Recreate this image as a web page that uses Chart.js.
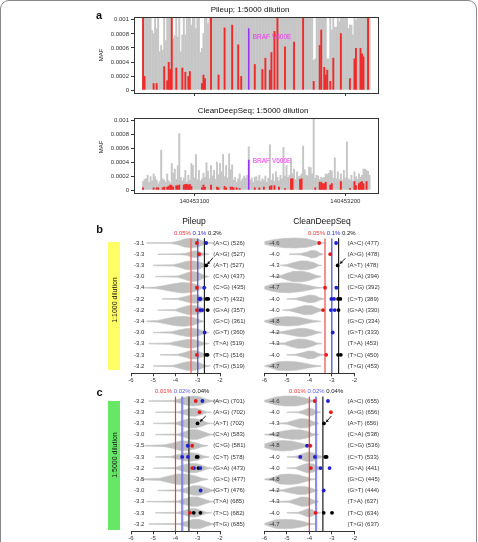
<!DOCTYPE html>
<html>
<head>
<meta charset="utf-8">
<script src="https://cdn.jsdelivr.net/npm/chart.js@4.4.1/dist/chart.umd.min.js"></script>
<style>
body { margin: 0; background: #fff; font-family: "Liberation Sans", Arial, sans-serif; }
#page { position: relative; width: 478px; height: 542px; overflow: hidden; }
#frame { position: absolute; left: 0; top: 0; width: 475px; height: 600px; border: 1px solid #888; border-radius: 9px; }
canvas { position: absolute; }
.t { position: absolute; white-space: nowrap; line-height: 1; transform: translate(-50%, -50%); color: #111; }
.r { transform: translate(-50%, -50%) rotate(-90deg); }
.box { position: absolute; width: 12px; }
</style>
</head>
<body>
<div id="page">
  <div id="frame"></div>
  <div class="box" style="left:108px;top:242px;height:128px;background:#ffff66"></div>
  <div class="box" style="left:108px;top:401px;height:129px;background:#66e866"></div>

  <canvas id="aTop" width="400" height="100" style="left:0;top:0"></canvas>
  <canvas id="aBot" width="400" height="110" style="left:0;top:100px"></canvas>
  <canvas id="bL" width="170" height="175" style="left:95px;top:215px"></canvas>
  <canvas id="bR" width="160" height="175" style="left:240px;top:215px"></canvas>
  <canvas id="cL" width="170" height="167" style="left:95px;top:375px"></canvas>
  <canvas id="cR" width="160" height="167" style="left:240px;top:375px"></canvas>

  <div class="t" style="left:99px;top:15px;font-size:11px;font-weight:bold">a</div>
  <div class="t" style="left:99.5px;top:228.5px;font-size:11px;font-weight:bold">b</div>
  <div class="t" style="left:99.5px;top:391.5px;font-size:11px;font-weight:bold">c</div>
  <div class="t" style="left:250px;top:10px;font-size:8px">Pileup; 1:5000 dilution</div>
  <div class="t" style="left:253px;top:111px;font-size:8px">CleanDeepSeq; 1:5000 dilution</div>
  <div class="t r" style="left:100.5px;top:55px;font-size:6px">MAF</div>
  <div class="t r" style="left:100.5px;top:147px;font-size:6px">MAF</div>
  <div class="t" style="left:194px;top:221px;font-size:8.5px">Pileup</div>
  <div class="t" style="left:322px;top:221px;font-size:8.5px">CleanDeepSeq</div>
  <div class="t r" style="left:114px;top:300px;font-size:7px">1:1000 dilution</div>
  <div class="t r" style="left:114px;top:455px;font-size:7px">1:5000 dilution</div>
  <div class="t" style="left:176px;top:544px;font-size:6px">MAF</div>
  <div class="t" style="left:310px;top:544px;font-size:6px">MAF</div>
</div>

<script>
// ---------- panel a: per-position MAF around BRAF V600E ----------
const firstPos = 140453066;
const positions = Array.from({ length: 151 }, (_, i) => firstPos + i);
const posTicks = [140453100, 140453200];
const mafTicks = [0, 0.0002, 0.0004, 0.0006, 0.0008, 0.001];
const brafPos = 140453136;
const brafMaf = [0.00088, 0.00044];      // pileup, cleandeepseq
const brafLabelMaf = [0.00076, 0.00042];

// values above 0.001 run off the top of the box
const pileupGray = [
  .002, .002, .002, .002, .002, .002, .00085, .00081, .002, .00088,
  .002, .00055, .00064, .00057, .002, .00071, .002, .002, .002, .002,
  .00074, .00078, .002, .00076, .002, .00055, .00079, .002, .00079, .002,
  .002, .002, .00093, .002, .002, .00088, .002, .002, .00054, .0006,
  .00081, .002, .002, .00095, .002, .002, .002, .002, .002, .002,
  .002, .002, .002, .002, .002, .002, .002, .002, .002, .002,
  .002, .002, .002, .002, .002, .002, .002, .002, .002, .002,
  .002, .002, .002, .002, .002, .002, .002, .002, .002, .002,
  .002, .002, .002, .002, .002, .002, .002, .002, .002, .002,
  .002, .002, .002, .002, .002, .002, .002, .002, .002, .002,
  .002, .002, .002, .002, .002, .002, .002, .002, .002, .002,
  .002, .002, .002, .00043, .00045, .002, .002, .002, .002, .002,
  .002, .002, .00045, .00045, .002, .00086, .002, .0009, .0009, .002,
  .00098, .002, .002, .002, .002, .002, .00088, .00093, .00093, .00079,
  .002, .001, .002, .002, .002, .002, .002, .002, .002, .002,
  .002
];
const pileupRed = [
  .002, .0002, 0, 0, 0, 0, 0, .0001, 0, .0001,
  0, 0, 0, 0, .00034, 0, .00014, .0004, .0003, .002,
  0, 0, .00032, 0, 0, 0, .00032, 0, .00026, 0,
  .0002, .00027, 0, 0, 0, 0, 0, 0, 0, .0001,
  .00022, .00017, 0, 0, 0, .002, 0, 0, 0, 0,
  .00022, 0, 0, 0, .00089, 0, 0, 0, 0, .00093,
  0, 0, 0, .00065, 0, .0002, 0, 0, 0, 0,
  0, 0, 0, 0, .00037, 0, 0, 0, 0, .0003,
  0, .00046, 0, 0, .00029, .00054, 0, .00084, 0, .002,
  0, 0, 0, 0, .00062, 0, 0, 0, 0, 0,
  .00069, 0, 0, 0, 0, 0, .002, 0, 0, 0,
  0, 0, 0, .00013, 0, 0, 0, .00064, .00086, 0,
  .00033, .00022, .00029, 0, .00013, 0, .00046, 0, 0, 0,
  0, .00081, 0, 0, 0, 0, 0, .00017, 0, 0,
  .00045, .0006, 0, 0, .0006, .00052, .00048, 0, 0, .002,
  0
];
const cleanGray = [
  .00013, .00016, .00017, .00022, .00012, .0002, .00014, .00024, .0002, .00015,
  .0001, .00013, .00058, .00017, .00015, .00012, .00024, .00014, .00011, .00039,
  .00025, .00031, .00016, .00036, .00082, .00019, .00014, .00018, .00029, .00012,
  .00022, .00015, .00039, .00036, .00018, .00052, .00016, .00029, .00014, .00017,
  .00025, .00019, .0004, .00028, .00017, .00036, .00021, .00029, .00016, .00041,
  .00023, .00039, .00027, .00052, .0002, .00036, .00018, .00053, .0003, .00037,
  .00015, .00019, .00012, .00017, .00024, .00014, .00017, .00021, .00018, .00022,
  .00063, .00015, .00018, .00012, .00019, .0002, .00014, .00022, .00013, .00017,
  .00015, .00021, .00012, .00018, .00066, .00015, .00024, .00013, .00027, .00019,
  .00014, .00022, .00017, .00062, .00021, .00036, .00019, .00022, .00046, .00024,
  .00031, .00016, .00027, .0002, .00021, .00024, .00064, .0003, .00022, .00021,
  .00034, .00033, .00024, .002, .00018, .00022, .00021, .00016, .00019, .00018,
  .00019, .00024, .00023, .00025, .00029, .00028, .00018, .00047, .00017, .00027,
  .00016, .00024, .00015, .00029, .00018, .0007, .00017, .00015, .00022, .00014,
  .00027, .0002, .00016, .00024, .00019, .00022, .00031, .00031, .00029, .00028,
  .00022
];
const cleanRed = [
  .00004, 0, 0, 0, 0, 0, 0, .00004, 0, .00004,
  .00004, 0, 0, .00004, .00005, 0, .00005, .00006, .00008, .00007,
  .00005, 0, .00007, .00007, .00008, 0, 0, .00008, .00009, .00009,
  .00008, .00009, .00006, 0, 0, 0, 0, 0, 0, .00004,
  .00008, .00005, 0, 0, 0, .00008, 0, 0, 0, .00005,
  .00004, 0, 0, 0, .00006, .00004, 0, 0, .00005, .00005,
  .00004, 0, .00004, 0, .00003, 0, 0, 0, 0, 0,
  0, 0, 0, 0, .00004, 0, 0, .00004, 0, 0,
  .00005, 0, 0, 0, .00006, .00007, 0, .00007, 0, 0,
  .00005, 0, 0, 0, .00003, 0, 0, 0, .00017, .00017,
  0, 0, 0, 0, .00016, .00017, 0, 0, 0, 0,
  0, 0, 0, 0, .00004, 0, 0, .00012, .00012, .0001,
  .0001, .00012, 0, 0, .00008, .0001, 0, 0, 0, 0,
  0, .00013, 0, 0, 0, 0, 0, .00003, 0, 0,
  .00013, .00007, 0, .0001, .00012, .00013, .0001, 0, .00013, 0,
  0
];

// ---------- panels b and c: log10 MAF per substitution ----------
const mutations = ['A>C', 'A>G', 'A>T', 'C>A', 'C>G', 'C>T', 'G>A', 'G>C', 'G>T', 'T>A', 'T>C', 'T>G'];
const logTicks = [-6, -5, -4, -3, -2];

const bPileupMedian = [-3.1, -3.3, -3.3, -3.0, -3.4, -3.2, -3.2, -3.4, -3.0, -3.3, -3.3, -3.2];
const bPileupCount = [526, 527, 527, 437, 435, 432, 357, 361, 360, 519, 516, 519];
const bCleanMedian = [-4.6, -4.0, -4.3, -4.2, -4.7, -4.0, -4.0, -4.8, -4.2, -4.3, -4.0, -4.7];
const bCleanCount = [477, 478, 478, 394, 392, 389, 330, 334, 333, 453, 450, 453];
const cPileupMedian = [-3.2, -3.3, -3.3, -3.0, -3.5, -3.3, -3.2, -3.5, -3.0, -3.3, -3.3, -3.2];
const cPileupCount = [701, 702, 702, 583, 581, 578, 473, 477, 476, 685, 682, 685];
const cCleanMedian = [-4.6, -4.0, -4.3, -4.2, -4.8, -4.0, -4.0, -4.8, -4.2, -4.3, -4.0, -4.7];
const cCleanCount = [655, 656, 656, 538, 536, 533, 441, 445, 444, 637, 634, 637];

const bThresholds = [0.0005, 0.001, 0.002];
const bThresholdText = ['0.05%', '0.1%', '0.2%'];
const cThresholds = [0.0001, 0.0002, 0.0004];
const cThresholdText = ['0.01%', '0.02%', '0.04%'];

// violin outlines: [log10 MAF, half width in rows]
const bPileupViolins = [
  [[-5.3, .03], [-4.2, .05], [-3.9, .15], [-3.6, .36], [-3.3, .42], [-3.0, .36], [-2.8, .2], [-2.55, .05], [-2.3, .02]],
  [[-4.8, .02], [-3.8, .04], [-3.5, .1], [-3.3, .25], [-3.1, .3], [-2.9, .22], [-2.75, .08], [-2.5, .02]],
  [[-5.0, .03], [-4.1, .06], [-3.8, .2], [-3.5, .38], [-3.2, .4], [-2.9, .3], [-2.7, .12], [-2.5, .02]],
  [[-4.9, .02], [-3.9, .06], [-3.6, .25], [-3.3, .45], [-3.1, .42], [-2.9, .3], [-2.7, .1], [-2.5, .02]],
  [[-5.4, .03], [-4.9, .06], [-4.5, .2], [-4.1, .35], [-3.7, .47], [-3.3, .42], [-3.0, .25], [-2.8, .06], [-2.6, .02]],
  [[-4.6, .02], [-3.9, .05], [-3.6, .2], [-3.3, .36], [-3.05, .38], [-2.85, .22], [-2.65, .06], [-2.5, .02]],
  [[-4.8, .02], [-4.0, .06], [-3.7, .25], [-3.4, .42], [-3.1, .4], [-2.85, .25], [-2.65, .06], [-2.5, .02]],
  [[-5.3, .03], [-4.8, .08], [-4.4, .25], [-4.0, .4], [-3.6, .45], [-3.2, .35], [-2.95, .15], [-2.75, .03]],
  [[-5.0, .02], [-4.2, .06], [-3.9, .2], [-3.5, .36], [-3.2, .38], [-2.9, .25], [-2.7, .08], [-2.5, .02]],
  [[-5.2, .02], [-4.3, .06], [-3.9, .22], [-3.5, .38], [-3.2, .38], [-2.9, .22], [-2.7, .06], [-2.5, .02]],
  [[-4.7, .02], [-3.9, .05], [-3.6, .2], [-3.35, .36], [-3.1, .38], [-2.85, .22], [-2.65, .06], [-2.5, .02]],
  [[-5.0, .02], [-4.1, .06], [-3.8, .22], [-3.5, .38], [-3.2, .4], [-2.9, .28], [-2.7, .1], [-2.45, .02]]
];
const bCleanViolins = [
  [[-6.0, .12], [-5.6, .3], [-5.1, .42], [-4.6, .45], [-4.1, .38], [-3.8, .22], [-3.55, .05], [-3.3, .02]],
  [[-4.9, .02], [-4.4, .06], [-4.1, .2], [-3.9, .35], [-3.7, .3], [-3.55, .12], [-3.4, .03]],
  [[-5.3, .02], [-5.0, .08], [-4.7, .25], [-4.4, .4], [-4.1, .4], [-3.8, .25], [-3.6, .06], [-3.45, .02]],
  [[-5.6, .02], [-5.3, .08], [-5.0, .3], [-4.7, .47], [-4.3, .47], [-4.0, .35], [-3.7, .12], [-3.5, .03]],
  [[-6.0, .1], [-5.7, .3], [-5.3, .42], [-4.9, .45], [-4.4, .35], [-4.0, .2], [-3.7, .06], [-3.4, .02]],
  [[-5.0, .02], [-4.6, .06], [-4.3, .2], [-4.0, .35], [-3.75, .3], [-3.55, .12], [-3.35, .02]],
  [[-5.2, .02], [-4.85, .07], [-4.5, .25], [-4.2, .42], [-3.9, .4], [-3.65, .2], [-3.4, .03]],
  [[-6.0, .06], [-5.9, .1], [-5.5, .35], [-5.0, .42], [-4.5, .38], [-4.1, .2], [-3.8, .08], [-3.5, .02]],
  [[-5.7, .02], [-5.3, .06], [-4.9, .2], [-4.5, .36], [-4.2, .38], [-3.9, .25], [-3.65, .08], [-3.45, .02]],
  [[-5.6, .02], [-5.1, .08], [-4.8, .28], [-4.5, .42], [-4.2, .4], [-3.9, .25], [-3.65, .06], [-3.45, .02]],
  [[-5.0, .02], [-4.6, .06], [-4.3, .2], [-4.05, .35], [-3.8, .32], [-3.6, .12], [-3.35, .02]],
  [[-6.0, .03], [-5.8, .12], [-5.4, .38], [-5.0, .42], [-4.6, .38], [-4.2, .25], [-3.85, .1], [-3.5, .02]]
];
const cPileupViolins = [
  [[-5.2, .02], [-4.1, .05], [-3.8, .2], [-3.5, .38], [-3.2, .45], [-2.9, .38], [-2.6, .15], [-2.35, .04], [-2.0, .02]],
  [[-4.9, .02], [-3.9, .05], [-3.6, .2], [-3.35, .35], [-3.1, .36], [-2.85, .22], [-2.6, .05], [-2.4, .02]],
  [[-5.0, .02], [-4.0, .06], [-3.7, .25], [-3.4, .42], [-3.1, .42], [-2.8, .25], [-2.55, .06], [-2.35, .02]],
  [[-4.9, .02], [-3.9, .06], [-3.6, .25], [-3.3, .45], [-3.0, .42], [-2.7, .22], [-2.45, .05], [-2.3, .02]],
  [[-5.4, .03], [-4.5, .08], [-4.1, .25], [-3.8, .42], [-3.45, .42], [-3.1, .28], [-2.8, .08], [-2.55, .02]],
  [[-4.9, .02], [-4.2, .05], [-3.9, .2], [-3.6, .35], [-3.3, .38], [-3.0, .3], [-2.75, .1], [-2.5, .02]],
  [[-5.0, .02], [-4.0, .06], [-3.7, .25], [-3.4, .42], [-3.1, .42], [-2.8, .25], [-2.55, .06], [-2.35, .02]],
  [[-5.6, .03], [-4.7, .1], [-4.3, .3], [-3.9, .47], [-3.5, .47], [-3.1, .3], [-2.8, .1], [-2.55, .02]],
  [[-4.8, .02], [-3.8, .06], [-3.5, .25], [-3.2, .42], [-2.9, .42], [-2.6, .22], [-2.35, .04], [-2.2, .02]],
  [[-5.3, .02], [-3.9, .06], [-3.6, .25], [-3.3, .42], [-3.0, .42], [-2.7, .22], [-2.45, .05], [-2.3, .02]],
  [[-4.9, .02], [-3.9, .05], [-3.6, .2], [-3.35, .36], [-3.1, .38], [-2.85, .22], [-2.6, .05], [-2.4, .02]],
  [[-5.2, .02], [-3.8, .06], [-3.5, .25], [-3.2, .42], [-2.9, .4], [-2.6, .2], [-2.35, .04], [-2.2, .02]]
];
const cCleanViolins = [
  [[-6.0, .08], [-5.9, .12], [-5.5, .35], [-5.1, .45], [-4.6, .45], [-4.2, .3], [-3.95, .12], [-3.7, .03]],
  [[-5.0, .02], [-4.5, .05], [-4.25, .18], [-4.05, .35], [-3.85, .3], [-3.7, .1], [-3.5, .02]],
  [[-5.4, .02], [-5.0, .07], [-4.7, .25], [-4.4, .42], [-4.1, .4], [-3.85, .2], [-3.6, .03]],
  [[-6.0, .02], [-5.6, .1], [-5.2, .3], [-4.8, .42], [-4.4, .42], [-4.1, .3], [-3.85, .1], [-3.6, .02]],
  [[-6.0, .15], [-5.6, .4], [-5.2, .47], [-4.8, .42], [-4.4, .25], [-4.1, .08], [-3.85, .02]],
  [[-5.0, .02], [-4.6, .06], [-4.35, .25], [-4.1, .42], [-3.85, .38], [-3.6, .15], [-3.4, .02]],
  [[-5.0, .02], [-4.6, .06], [-4.35, .25], [-4.1, .42], [-3.85, .38], [-3.6, .15], [-3.4, .02]],
  [[-6.0, .03], [-5.6, .15], [-5.3, .42], [-4.9, .47], [-4.5, .4], [-4.15, .2], [-3.9, .06], [-3.7, .02]],
  [[-5.8, .02], [-5.2, .06], [-4.9, .2], [-4.5, .36], [-4.2, .36], [-3.9, .2], [-3.65, .04]],
  [[-5.6, .02], [-4.9, .07], [-4.6, .25], [-4.35, .42], [-4.1, .4], [-3.85, .18], [-3.6, .03]],
  [[-5.0, .02], [-4.5, .05], [-4.3, .18], [-4.1, .35], [-3.9, .32], [-3.7, .1], [-3.5, .02]],
  [[-6.0, .05], [-5.9, .12], [-5.5, .38], [-5.1, .42], [-4.7, .38], [-4.3, .25], [-4.0, .08], [-3.7, .02]]
];

// individual spike-in variants: [row, log10 MAF]
const bPileupRedDots = [[1, -3.04], [2, -2.94], [5, -3.04], [7, -3.04], [11, -3.04]];
const bPileupBlueDots = [[1, -2.62], [5, -2.71], [6, -2.92], [6, -2.88], [7, -2.9], [7, -2.8], [9, -2.69]];
const bPileupBlackDots = [[3, -2.62], [6, -2.6], [6, -2.53], [7, -2.55], [11, -2.62], [11, -2.56]];
const bCleanRedDots = [[1, -3.56], [2, -3.07], [5, -3.3], [7, -3.39], [11, -3.25]];
const bCleanBlueDots = [[1, -2.81], [5, -2.8], [6, -3.02], [6, -2.9], [7, -3.04], [7, -2.87], [9, -2.96]];
const bCleanBlackDots = [[3, -2.74], [6, -2.72], [6, -2.62], [7, -2.7], [11, -2.72], [11, -2.6]];
const cPileupRedDots = [[1, -3.09], [2, -2.92], [5, -3.25], [7, -3.25], [11, -3.35]];
const cPileupBlueDots = [[1, -2.79], [5, -3.45], [6, -3.7], [6, -3.44], [7, -3.17], [7, -2.88], [9, -2.87]];
const cPileupBlackDots = [[3, -3.01], [6, -3.05], [6, -3.0], [7, -2.97], [11, -3.18], [11, -2.88]];
const cCleanRedDots = [[1, -3.76], [2, -3.04], [5, -3.96], [7, -3.93], [11, -3.72]];
const cCleanBlueDots = [[1, -3.17], [5, -4.1], [6, -4.4], [6, -3.75], [7, -3.5], [7, -3.1], [9, -3.36]];
const cCleanBlackDots = [[3, -3.35], [6, -3.29], [6, -3.23], [11, -3.36], [11, -2.99]];

// arrows marking BRAF V600E (A>T): [x, row] from -> to
const bPileupArrow = [[-2.31, 2.31], [-2.57, 2.9]];
const bCleanArrow = [[-2.4, 2.37], [-2.64, 2.86]];
const cPileupArrow = [[-2.64, 2.34], [-2.9, 2.85]];
const cCleanArrow = [[-3.02, 2.34], [-3.26, 2.9]];

// ---------- drawing ----------
const fam = '"Liberation Sans", Arial, sans-serif';
Chart.defaults.font.family = fam;
Chart.defaults.color = '#333';

function padFor(g) {
  const [l, t, r, b] = g.area;
  return { left: l - g.left - (g.yw || 0), right: g.left + g.w - r, top: t - g.top, bottom: g.top + g.h - b - g.axisH };
}

const boxPlugin = {
  id: 'box',
  afterDatasetsDraw(chart) {
    const { ctx, chartArea: a } = chart;
    ctx.save();
    ctx.strokeStyle = '#333';
    ctx.lineWidth = 1;
    ctx.strokeRect(Math.round(a.left) + 0.5, Math.round(a.top) + 0.5, Math.round(a.width), Math.round(a.height));
    ctx.restore();
  }
};

function brafLabel(labelMaf) {
  return {
    id: 'brafLabel',
    afterDatasetsDraw(chart) {
      const { ctx, scales: { x, y } } = chart;
      ctx.save();
      ctx.font = '6.5px ' + fam;
      ctx.fillStyle = '#ee33ee';
      ctx.textBaseline = 'middle';
      ctx.fillText('BRAF V600E', x.getPixelForValue(brafPos) + 4, y.getPixelForValue(labelMaf));
      ctx.restore();
    }
  };
}

function barChart(id, geo, gray, red, braf, labelMaf, showLabels) {
  return new Chart(document.getElementById(id), {
    type: 'bar',
    data: {
      labels: positions,
      datasets: [
        { data: positions.map(p => p === brafPos ? braf : null), backgroundColor: '#9933ee', barThickness: 1.6, order: 0 },
        { data: red, backgroundColor: '#f02a2a', barThickness: 1.9, order: 1 },
        { data: gray, backgroundColor: '#c6c6c6', barThickness: 1.95, order: 2 }
      ]
    },
    options: {
      responsive: false,
      animation: false,
      layout: { padding: padFor(geo) },
      datasets: { bar: { grouped: false, inflateAmount: 0 } },
      plugins: { legend: { display: false }, tooltip: { enabled: false } },
      scales: {
        x: {
          type: 'linear', min: 140453060, max: 140453221.6, offset: false,
          afterBuildTicks: s => { s.ticks = posTicks.map(v => ({ value: v })); },
          afterFit: s => { s.height = geo.axisH; },
          ticks: { display: showLabels, callback: v => String(v), font: { size: 6 }, padding: 2, maxRotation: 0, autoSkip: false },
          grid: { drawOnChartArea: false, tickLength: 3, color: '#333', offset: false },
          border: { display: false }
        },
        y: {
          min: -0.00004, max: 0.00104,
          afterBuildTicks: s => { s.ticks = mafTicks.map(v => ({ value: v })); },
          afterFit: s => { s.width = geo.yw; },
          ticks: { callback: v => String(v), font: { size: 6 }, padding: 2 },
          grid: { drawOnChartArea: false, tickLength: 3, color: '#333' },
          border: { display: false }
        }
      }
    },
    plugins: [boxPlugin, brafLabel(labelMaf)]
  });
}

barChart('aTop', { left: 0, top: 0, w: 400, h: 100, area: [134, 17, 378, 93], axisH: 4, yw: 40 },
  pileupGray, pileupRed, brafMaf[0], brafLabelMaf[0], false);
barChart('aBot', { left: 0, top: 100, w: 400, h: 110, area: [134, 118, 378, 193], axisH: 17, yw: 40 },
  cleanGray, cleanRed, brafMaf[1], brafLabelMaf[1], true);

function rowText(p) {
  return {
    id: 'rowText',
    afterDatasetsDraw(chart) {
      const { ctx, scales: { x, y } } = chart;
      ctx.save();
      ctx.font = '6px ' + fam;
      ctx.textBaseline = 'middle';
      ctx.textAlign = 'left';
      ctx.fillStyle = '#333';
      p.median.forEach((m, i) => ctx.fillText(m.toFixed(1), x.getPixelForValue(p.medianX), y.getPixelForValue(i + 1)));
      p.count.forEach((c, i) => ctx.fillText('(' + mutations[i] + ') (' + c + ')', x.getPixelForValue(-2.3), y.getPixelForValue(i + 1)));
      // threshold header, centred on the middle line
      const gap = ctx.measureText(' ').width;
      const widths = p.headText.map(s => ctx.measureText(s).width);
      let hx = x.getPixelForValue(Math.log10(p.thresholds[1])) - (widths[0] + widths[1] + widths[2] + 2 * gap) / 2;
      const hy = y.getPixelForValue(0.15);
      p.headText.forEach((s, i) => {
        ctx.fillStyle = p.headColors[i];
        ctx.fillText(s, hx, hy);
        hx += widths[i] + gap;
      });
      // arrow
      const [a0, a1] = p.arrow;
      const x1 = x.getPixelForValue(a0[0]), y1 = y.getPixelForValue(a0[1]);
      const x2 = x.getPixelForValue(a1[0]), y2 = y.getPixelForValue(a1[1]);
      ctx.strokeStyle = '#000';
      ctx.fillStyle = '#000';
      ctx.lineWidth = 0.9;
      ctx.beginPath(); ctx.moveTo(x1, y1); ctx.lineTo(x2, y2); ctx.stroke();
      const ang = Math.atan2(y2 - y1, x2 - x1);
      ctx.beginPath();
      ctx.moveTo(x2, y2);
      ctx.lineTo(x2 - 3.2 * Math.cos(ang - 0.5), y2 - 3.2 * Math.sin(ang - 0.5));
      ctx.lineTo(x2 - 3.2 * Math.cos(ang + 0.5), y2 - 3.2 * Math.sin(ang + 0.5));
      ctx.closePath(); ctx.fill();
      ctx.restore();
    }
  };
}

function violinChart(id, geo, p) {
  const datasets = [];
  p.violins.forEach((anchors, i) => {
    const row = i + 1;
    const upper = anchors.map(([x, w]) => ({ x, y: row - w }));
    const lower = anchors.slice().reverse().map(([x, w]) => ({ x, y: row + w }));
    datasets.push({
      data: upper.concat(lower), fill: 'shape', backgroundColor: '#bfbfbf', borderColor: '#c4c4c4',
      borderWidth: 0.6, pointRadius: 0, tension: 0, order: 3
    });
  });
  p.thresholds.forEach((t, i) => {
    const lx = Math.log10(t);
    datasets.push({
      data: [{ x: lx, y: 0.6 }, { x: lx, y: 12.65 }], borderColor: p.lineColors[i], borderWidth: p.lineWidths[i],
      pointRadius: 0, fill: false, order: 2
    });
  });
  [[p.red, '#e41a1a'], [p.blue, '#1f1fd0'], [p.black, '#000']].forEach(([pts, col]) => {
    datasets.push({
      data: pts.map(([r, x]) => ({ x, y: r })), showLine: false, pointRadius: 1.9, pointBorderWidth: 0,
      pointBackgroundColor: col, order: 1
    });
  });
  return new Chart(document.getElementById(id), {
    type: 'line',
    data: { datasets },
    options: {
      responsive: false,
      animation: false,
      layout: { padding: padFor(geo) },
      plugins: { legend: { display: false }, tooltip: { enabled: false } },
      scales: {
        x: {
          type: 'linear', min: -6, max: -2,
          afterBuildTicks: s => { s.ticks = logTicks.map(v => ({ value: v })); },
          afterFit: s => { s.height = geo.axisH; },
          ticks: { font: { size: 6 }, padding: 0, maxRotation: 0, autoSkip: false },
          grid: { drawOnChartArea: false, tickLength: 3, color: '#333' },
          border: { display: true, color: '#333' }
        },
        y: { type: 'linear', reverse: true, min: 0.4, max: 12.65, display: false }
      }
    },
    plugins: [rowText(p)]
  });
}

const bLines = { lineColors: ['rgba(240,110,110,0.75)', 'rgba(60,60,230,0.9)', '#222'], lineWidths: [2, 1.3, 1],
  headColors: ['#e53535', '#2a2ad6', '#111'] };
const cLines = { lineColors: ['#e84040', 'rgba(120,120,240,0.85)', '#555'], lineWidths: [1.2, 2.2, 1.6],
  headColors: ['#e53535', '#5a5ae6', '#111'] };

violinChart('bL', { left: 95, top: 215, w: 170, h: 175, area: [131, 236.3, 220, 373.3], axisH: 12 },
  Object.assign({ violins: bPileupViolins, median: bPileupMedian, count: bPileupCount, medianX: -5.86,
    red: bPileupRedDots, blue: bPileupBlueDots, black: bPileupBlackDots, arrow: bPileupArrow,
    thresholds: bThresholds, headText: bThresholdText }, bLines));
violinChart('bR', { left: 240, top: 215, w: 160, h: 175, area: [264.3, 236.3, 354.3, 373.3], axisH: 12 },
  Object.assign({ violins: bCleanViolins, median: bCleanMedian, count: bCleanCount, medianX: -5.78,
    red: bCleanRedDots, blue: bCleanBlueDots, black: bCleanBlackDots, arrow: bCleanArrow,
    thresholds: bThresholds, headText: bThresholdText }, bLines));
violinChart('cL', { left: 95, top: 375, w: 170, h: 167, area: [131, 394.3, 220, 531.3], axisH: 10 },
  Object.assign({ violins: cPileupViolins, median: cPileupMedian, count: cPileupCount, medianX: -5.86,
    red: cPileupRedDots, blue: cPileupBlueDots, black: cPileupBlackDots, arrow: cPileupArrow,
    thresholds: cThresholds, headText: cThresholdText }, cLines));
violinChart('cR', { left: 240, top: 375, w: 160, h: 167, area: [264.3, 394.3, 354.3, 531.3], axisH: 10 },
  Object.assign({ violins: cCleanViolins, median: cCleanMedian, count: cCleanCount, medianX: -5.78,
    red: cCleanRedDots, blue: cCleanBlueDots, black: cCleanBlackDots, arrow: cCleanArrow,
    thresholds: cThresholds, headText: cThresholdText }, cLines));
</script>
</body>
</html>
